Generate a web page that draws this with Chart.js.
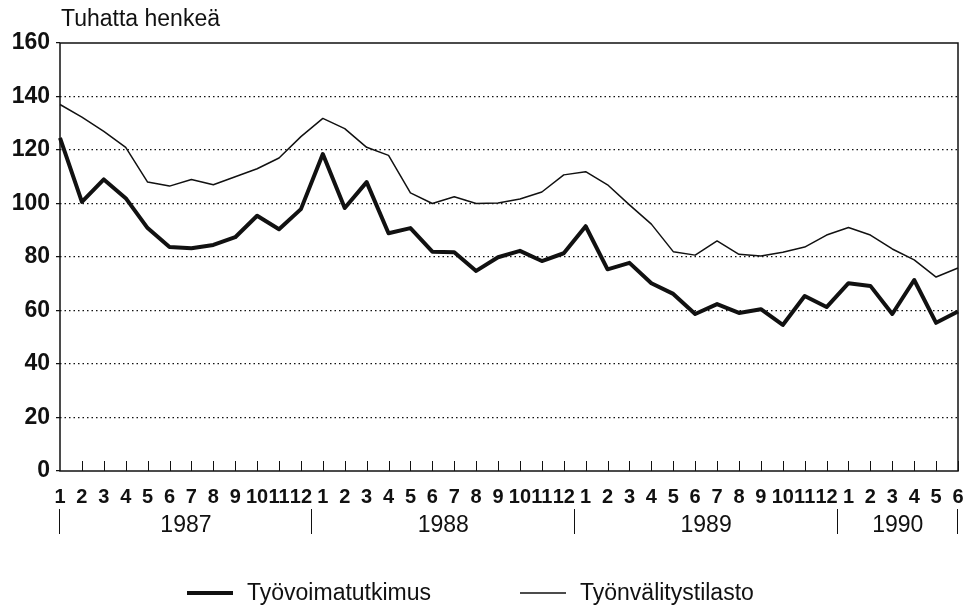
<!DOCTYPE html>
<html>
<head>
<meta charset="utf-8">
<script src="https://cdn.jsdelivr.net/npm/chart.js@4"></script>
<style>
  html, body { margin:0; padding:0; background:#fff; }
  #wrap { width:964px; height:616px; }
</style>
</head>
<body>
<div id="wrap"><canvas id="chart" width="964" height="616"></canvas></div>
<script>
// data
const monthLabels = ['1','2','3','4','5','6','7','8','9','10','11','12',
                     '1','2','3','4','5','6','7','8','9','10','11','12',
                     '1','2','3','4','5','6','7','8','9','10','11','12',
                     '1','2','3','4','5','6'];
const years = ['1987','1988','1989','1990'];
const monthsPerYear = [12, 12, 12, 6];
const yTicks = [0, 20, 40, 60, 80, 100, 120, 140, 160];

const tyovoimatutkimus = [124.5,100.6,109,102,90.8,83.7,83.3,84.5,87.4,95.4,90.4,97.9,
                          118.5,98.3,108,88.9,90.8,82,81.8,74.8,79.9,82.3,78.5,81.4,
                          91.5,75.4,77.8,70.2,66.2,58.7,62.4,59.1,60.5,54.6,65.4,61.3,
                          70.2,69.2,58.7,71.4,55.4,59.6];
const tyonvalitystilasto = [137,132.3,127,121,108,106.5,109,107,110,113,117,125,
                            131.8,128,121,118,104,100,102.5,100,100.2,101.7,104.3,110.7,
                            111.9,107,99.5,92.3,82,80.7,86,81,80.4,81.8,83.7,88.2,
                            91,88.2,83,78.9,72.5,75.9];

const FONT = '"Liberation Sans", Arial, Helvetica, sans-serif';
const INK = '#111';

// extra drawing: frame, inner ticks, year row, title, legend
const decor = {
  id: 'decor',
  afterDraw(chart){
    const ctx = chart.ctx, a = chart.chartArea, x = chart.scales.x;
    ctx.save();
    ctx.strokeStyle = INK;
    ctx.lineWidth = 1.5;
    ctx.strokeRect(a.left, a.top, a.right - a.left, a.bottom - a.top);

    // short ticks inside the plot, one per month
    ctx.lineWidth = 1;
    ctx.beginPath();
    for(let i = 1; i < monthLabels.length; i++){
      const px = Math.round(x.getPixelForValue(i)) + 0.5;
      ctx.moveTo(px, a.bottom); ctx.lineTo(px, a.bottom - 10);
    }
    ctx.stroke();

    // year separators and names
    let start = 0;
    const bounds = [x.getPixelForValue(0)];
    monthsPerYear.forEach((n, k)=>{
      start += n;
      bounds.push(k === monthsPerYear.length - 1 ? x.getPixelForValue(start - 1) : x.getPixelForValue(start - 0.5));
    });
    ctx.beginPath();
    bounds.forEach(b=>{ const px = Math.round(b) - 0.5; ctx.moveTo(px, 509); ctx.lineTo(px, 534); });
    ctx.stroke();
    ctx.fillStyle = INK;
    ctx.font = '23px ' + FONT;
    ctx.textAlign = 'center'; ctx.textBaseline = 'middle';
    years.forEach((y, k)=> ctx.fillText(y, (bounds[k] + bounds[k+1]) / 2, 526));

    // unit title
    ctx.textAlign = 'left';
    ctx.font = '23px ' + FONT;
    ctx.fillText('Tuhatta henkeä', a.left + 1, 20);

    // legend
    const starts = [187, 520];
    ctx.font = '23px ' + FONT;
    chart.data.datasets.forEach((ds, k)=>{
      const lx = starts[k];
      ctx.lineWidth = ds.borderWidth;
      ctx.beginPath(); ctx.moveTo(lx, 593); ctx.lineTo(lx + 46, 593); ctx.stroke();
      ctx.fillText(ds.label, lx + 60, 594);
    });
    ctx.restore();
  }
};

new Chart(document.getElementById('chart'), {
  type: 'line',
  data: {
    labels: monthLabels,
    datasets: [
      { label: 'Työvoimatutkimus', data: tyovoimatutkimus, borderColor: INK, borderWidth: 4, pointRadius: 0, tension: 0, borderJoinStyle: 'round' },
      { label: 'Työnvälitystilasto', data: tyonvalitystilasto, borderColor: INK, borderWidth: 1.5, pointRadius: 0, tension: 0, borderJoinStyle: 'round' }
    ]
  },
  options: {
    responsive: false,
    animation: false,
    layout: { padding: { top: 43, right: 6, left: 0, bottom: 0 } },
    plugins: { legend: { display: false }, tooltip: { enabled: false } },
    scales: {
      x: {
        offset: false,
        afterFit: s => { s.height = 145; s.paddingLeft = 0; s.paddingRight = 0; },
        grid: { display: false, drawTicks: false },
        border: { display: false },
        ticks: { autoSkip: false, maxRotation: 0, minRotation: 0, padding: 14, color: INK,
                 font: { family: FONT, size: 20, weight: 'bold' } }
      },
      y: {
        min: 0, max: 160,
        afterFit: s => { s.width = 60; },
        afterBuildTicks: s => { s.ticks = yTicks.map(v => ({ value: v })); },
        border: { display: false, dash: [1.5, 3] },
        grid: {
          color: c => (c.tick && (c.tick.value === 0 || c.tick.value === 160)) ? 'rgba(0,0,0,0)' : INK,
          lineWidth: 1.2,
          tickLength: 4,
          tickColor: INK,
          tickBorderDash: [1, 0]
        },
        ticks: { padding: 6, color: INK, font: { family: FONT, size: 23, weight: 'bold' } }
      }
    }
  },
  plugins: [decor]
});
</script>
</body>
</html>
